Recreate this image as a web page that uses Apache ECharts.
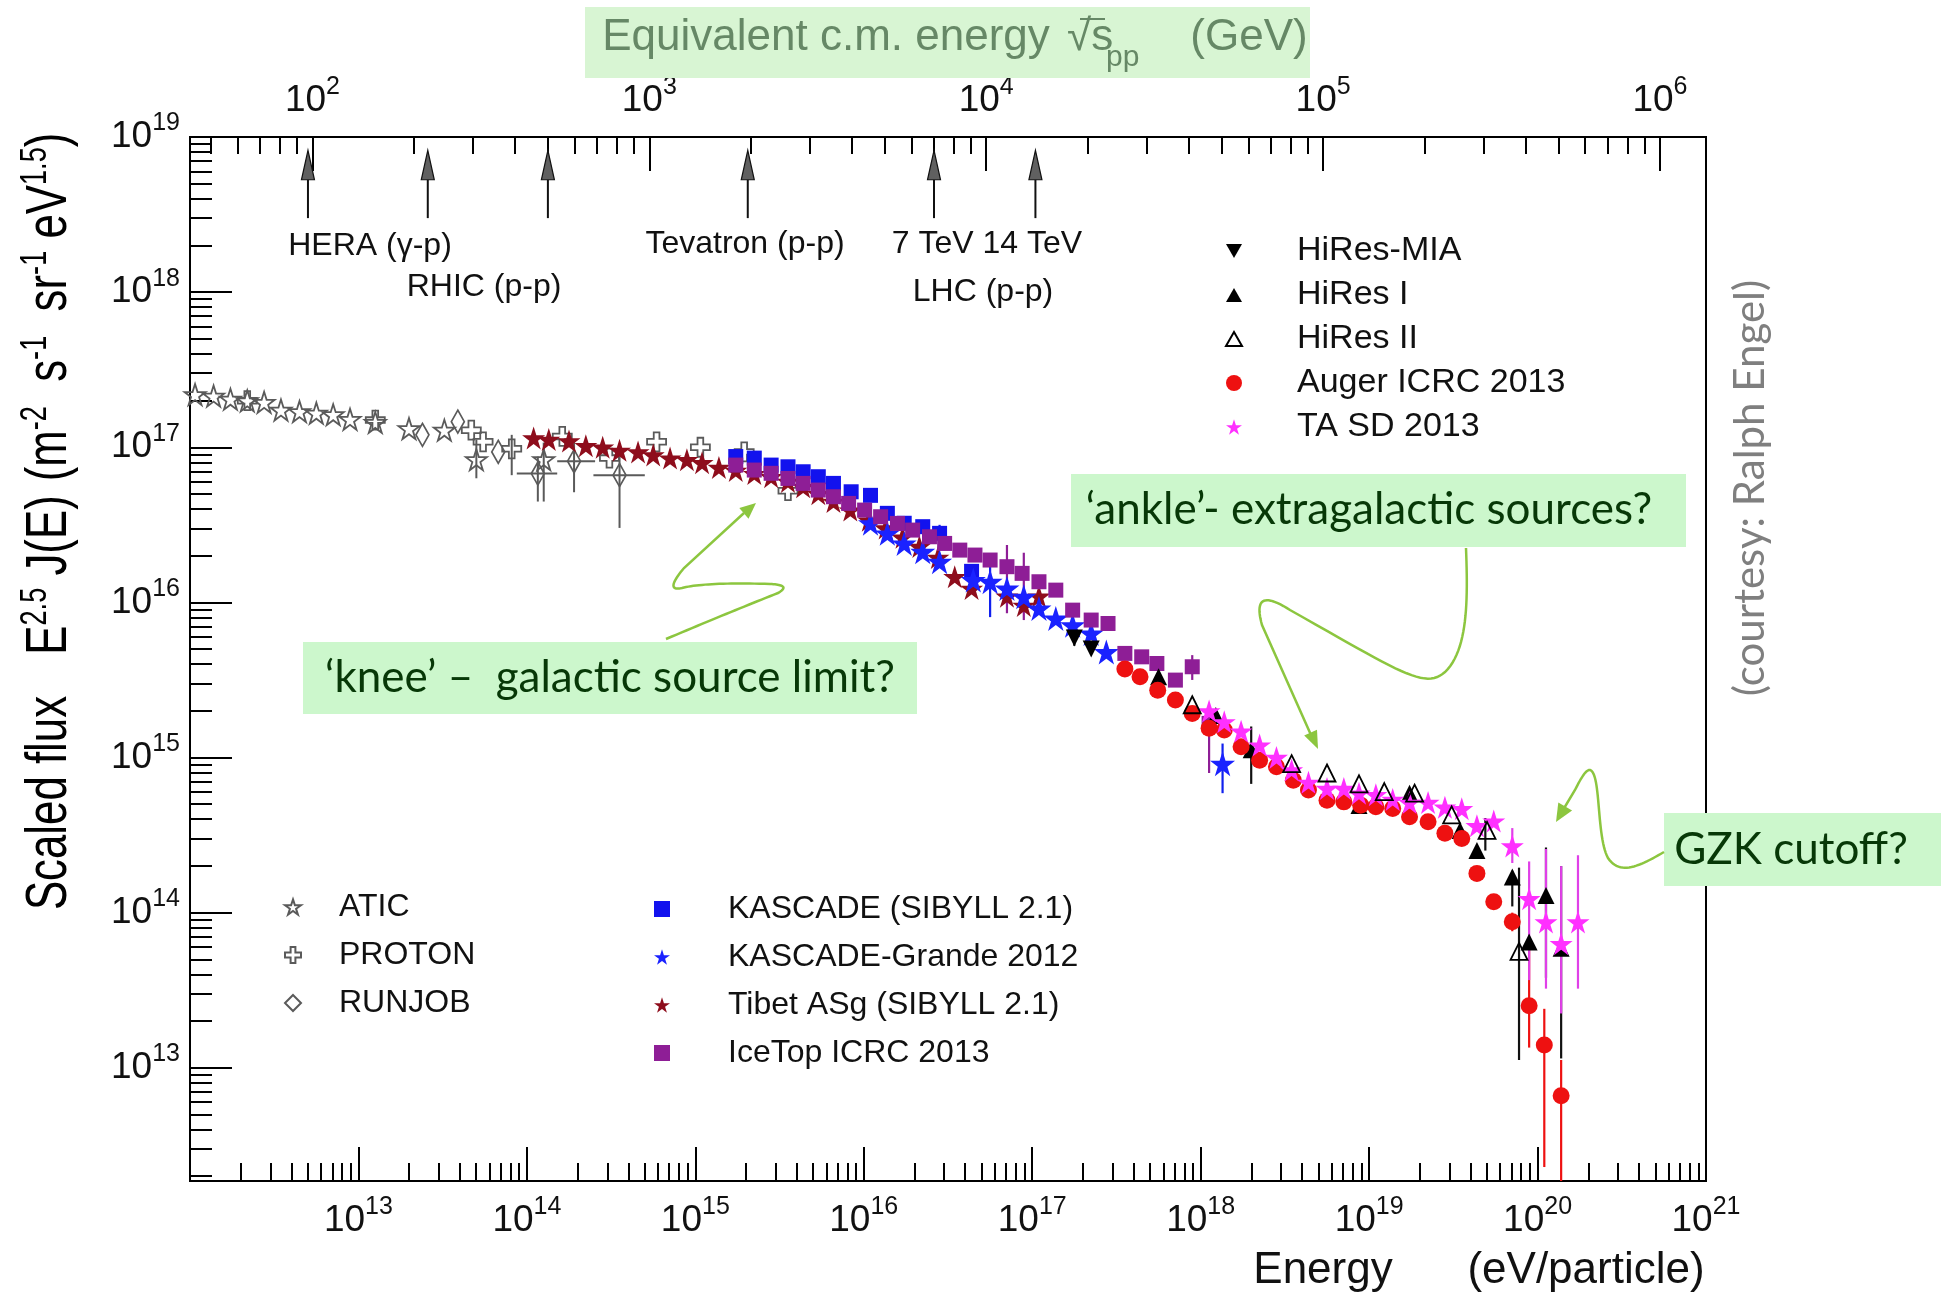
<!DOCTYPE html>
<html><head><meta charset="utf-8">
<script src="https://cdn.jsdelivr.net/npm/echarts@6/dist/echarts.min.js"></script>
<style>html,body{margin:0;padding:0;background:#fff}#c{width:1941px;height:1297px}</style>
</head><body><div id="c"></div>
<script>
// ---------- data (log10 E [eV], log10 scaled flux) ----------
const aticData = [[12.03,17.34],[12.14,17.33],[12.24,17.31],[12.34,17.30],[12.44,17.29],[12.54,17.24],[12.65,17.23],[12.75,17.22],[12.85,17.21],[12.95,17.18],[13.10,17.16],[13.30,17.12],[13.51,17.11],[13.70,16.92],[14.10,16.92]];
const protonData = [[12.34,17.30],[13.10,17.175],[13.67,17.11],[13.74,17.035],[13.91,16.99],[14.21,17.07],[14.49,16.93],[14.77,17.035],[15.03,17.00],[15.29,16.97],[15.55,16.72]];
const runjobData = [[13.38,17.08],[13.59,17.165],[13.83,16.97],[14.065,16.83],[14.28,16.91],[14.55,16.82]];
const tibetData = [[14.04,17.06],[14.13,17.05],[14.25,17.04],[14.35,17.01],[14.45,17.00],[14.55,16.98],[14.66,16.97],[14.75,16.95],[14.85,16.93],[14.95,16.92],[15.04,16.90],[15.14,16.87],[15.24,16.85],[15.35,16.83],[15.45,16.81],[15.55,16.78],[15.64,16.745],[15.73,16.70],[15.82,16.65],[15.92,16.595],[16.03,16.53],[16.13,16.48],[16.23,16.42],[16.33,16.36],[16.44,16.29],[16.54,16.165],[16.64,16.09],[16.85,16.04],[16.95,15.98],[17.04,16.04]];
const kascadeData = [[15.24,16.94],[15.35,16.93],[15.45,16.885],[15.55,16.874],[15.64,16.842],[15.73,16.81],[15.82,16.767],[15.925,16.713],[16.04,16.69],[16.14,16.574],[16.24,16.51],[16.35,16.488],[16.45,16.445],[16.64,16.20]];
const kgData = [[16.04,16.51],[16.14,16.445],[16.24,16.38],[16.35,16.326],[16.45,16.262],[16.65,16.144],[16.75,16.133],[16.85,16.09],[16.95,16.036],[17.04,15.961],[17.14,15.896],[17.24,15.853],[17.35,15.80],[17.44,15.68],[18.13,14.96]];
const icetopData = [[15.24,16.885],[15.35,16.853],[15.45,16.832],[15.55,16.799],[15.64,16.767],[15.73,16.724],[15.82,16.681],[15.91,16.638],[16.005,16.595],[16.10,16.552],[16.20,16.509],[16.29,16.466],[16.39,16.423],[16.48,16.38],[16.57,16.337],[16.66,16.305],[16.75,16.273],[16.85,16.23],[16.94,16.187],[17.04,16.133],[17.14,16.079],[17.24,15.95],[17.35,15.886],[17.45,15.864],[17.55,15.671],[17.65,15.649],[17.74,15.606],[17.85,15.499],[17.95,15.585],[18.05,15.22]];
const hiresMiaData = [[17.25,15.77],[17.35,15.70]];
const hires1Data = [[17.75,15.52],[18.09,15.27],[18.30,15.05],[18.94,14.69],[19.24,14.77],[19.54,14.53],[19.64,14.40],[19.85,14.23],[19.95,13.81],[20.05,14.11],[20.14,13.77]];
const hires2Data = [[17.95,15.34],[18.54,14.96],[18.75,14.90],[18.94,14.83],[19.09,14.78],[19.27,14.77],[19.49,14.63],[19.70,14.53],[19.89,13.75]];
const augerData = [[17.55,15.57],[17.64,15.52],[17.745,15.434],[17.85,15.37],[17.95,15.284],[18.05,15.188],[18.14,15.177],[18.24,15.069],[18.35,14.983],[18.45,14.94],[18.55,14.854],[18.64,14.79],[18.75,14.725],[18.85,14.714],[18.95,14.693],[19.04,14.682],[19.14,14.672],[19.24,14.618],[19.35,14.586],[19.45,14.511],[19.55,14.478],[19.64,14.253],[19.74,14.07],[19.85,13.941],[19.95,13.40],[20.04,13.146],[20.14,12.82]];
const taData = [[18.05,15.30],[18.14,15.23],[18.24,15.17],[18.35,15.08],[18.45,15.00],[18.54,14.92],[18.64,14.84],[18.75,14.80],[18.85,14.80],[18.94,14.77],[19.04,14.76],[19.14,14.73],[19.24,14.71],[19.35,14.71],[19.45,14.68],[19.55,14.67],[19.64,14.56],[19.74,14.59],[19.85,14.43],[19.95,14.09],[20.05,13.94],[20.14,13.80],[20.24,13.94]];

// error bars: [log10 E, log10 low, log10 high]
const grayErr = [[13.70,17.05,16.80],[14.10,17.03,16.65],[13.91,17.08,16.82],[14.065,16.94,16.65],[14.28,17.035,16.71],[14.55,16.94,16.48]];
const runjobXErr = [[16.83,13.94,14.18],[16.91,14.18,14.405],[16.82,14.395,14.70]]; // [log10 F, log10 Elo, log10 Ehi]
const blackErr = [[19.89,14.29,13.05],[20.05,14.42,13.58],[20.14,14.30,13.06],[19.85,14.27,14.04],[18.30,15.20,14.83],[19.69,14.61,14.40],[17.25,15.83,15.72]];
const redErr = [[19.95,13.82,13.13],[20.04,13.38,12.36],[20.14,13.05,12.27],[19.85,14.00,13.88],[19.74,14.12,14.02]];
const magentaErr = [[19.85,14.545,14.32],[19.95,14.33,13.565],[20.05,14.41,13.51],[20.14,14.30,13.35],[20.24,14.37,13.51]];
const blueErr = [[18.13,15.09,14.77],[16.75,16.25,15.905],[16.45,16.50,16.38]];
const purpleErr = [[17.95,15.66,15.50],[18.05,15.24,14.90],[16.85,16.37,15.93],[16.95,16.32,15.886]];

// accelerator arrows on the top axis (sqrt(s) in GeV)
const accelSqrtS = [97, 220, 500, 1960, 7000, 14000];

// axis ticks
const xMajor = [1e13,1e14,1e15,1e16,1e17,1e18,1e19,1e20];
const xLabels = [1e13,1e14,1e15,1e16,1e17,1e18,1e19,1e20,1e21];
const yMajor = [1e13,1e14,1e15,1e16,1e17,1e18,1e19];
const topMajor = [1e2,1e3,1e4,1e5,1e6];
const xRange = [1e12, 1e21];
const yRange = [Math.pow(10,12.27), 1e19];
const topRange = [Math.sqrt(1.876e3), Math.sqrt(1.876e12)];

function minors(lo, hi) {
  const out = [];
  for (let d = Math.floor(Math.log10(lo)); d <= Math.ceil(Math.log10(hi)); d++) {
    for (let k = 2; k <= 9; k++) { const v = k * Math.pow(10, d); if (v > lo && v < hi) out.push(v); }
  }
  return out;
}
// keep end values inside the axis extent despite float rounding
const inside = a => a.map(v => v * (1 - 1e-9));
const P = a => a.map(d => [Math.pow(10, d[0]), Math.pow(10, d[1])]);

// sample a decorative curve (annotation arrows) into polyline points
function curve(start, segs) {
  const pts = [start]; let p0 = start;
  segs.forEach(s => {
    if (s.length === 1) { pts.push(s[0]); p0 = s[0]; return; }
    for (let i = 1; i <= 24; i++) {
      const t = i / 24, u = 1 - t; let x, y;
      if (s.length === 2) {
        x = u*u*p0[0] + 2*u*t*s[0][0] + t*t*s[1][0];
        y = u*u*p0[1] + 2*u*t*s[0][1] + t*t*s[1][1];
      } else {
        x = u*u*u*p0[0] + 3*u*u*t*s[0][0] + 3*u*t*t*s[1][0] + t*t*t*s[2][0];
        y = u*u*u*p0[1] + 3*u*u*t*s[0][1] + 3*u*t*t*s[1][1] + t*t*t*s[2][1];
      }
      pts.push([x, y]);
    }
    p0 = s[s.length - 1];
  });
  return pts;
}

// ---------- styling ----------
const F = "'Liberation Sans', Arial, sans-serif";
const FC = "Lato, 'Open Sans', sans-serif";
const STAR = 'path://M50,2 L61.8,38.2 L99.5,38.2 L69,60.5 L80.6,96.6 L50,74.3 L19.4,96.6 L31,60.5 L0.5,38.2 L38.2,38.2 Z';
const CROSS = 'path://M35,0 L65,0 L65,35 L100,35 L100,65 L65,65 L65,100 L35,100 L35,65 L0,65 L0,35 L35,35 Z';
const DTRI = 'path://M0,0 L100,0 L50,87 Z';
const UTRI = 'path://M50,0 L100,87 L0,87 Z';
const GRAY = '#5a5a5a';

const supFmt = v => '{b|10}{s|' + Math.round(Math.log10(v)) + '}';
const rich = {
  b: { fontSize: 37, lineHeight: 52, color: '#111', fontFamily: F },
  s: { fontSize: 25, lineHeight: 24, verticalAlign: 'top', color: '#111', fontFamily: F }
};

function logAxis(extra) {
  return Object.assign({
    type: 'log', logBase: 10, gridIndex: 0,
    splitLine: { show: false },
    axisLine: { show: true, onZero: false, lineStyle: { color: '#000', width: 2 } },
    axisPointer: { show: false }
  }, extra);
}

function sc(name, data, symbol, size, color, hollow, extra) {
  return Object.assign({
    type: 'scatter', name: name, data: P(data), symbol: symbol, symbolSize: size,
    xAxisIndex: 0, yAxisIndex: 0, z: 3, silent: true,
    itemStyle: hollow ? { color: 'rgba(255,255,255,0)', borderColor: color, borderWidth: 1.8, opacity: 1 }
                      : { color: color, opacity: 1 },
    emphasis: { disabled: true }
  }, extra || {});
}

function errV(name, arr, color, w) {
  return {
    type: 'custom', name: name, xAxisIndex: 0, yAxisIndex: 0, z: 2, silent: true,
    data: arr.map(d => [Math.pow(10, d[0]), Math.pow(10, d[1]), Math.pow(10, d[2])]),
    encode: { x: 0, y: [1, 2] },
    renderItem: function (p, api) {
      const a = api.coord([api.value(0), api.value(1)]);
      const b = api.coord([api.value(0), api.value(2)]);
      return { type: 'line', shape: { x1: a[0], y1: a[1], x2: b[0], y2: b[1] }, style: { stroke: color, lineWidth: w } };
    }
  };
}
function errH(name, arr, color, w) {
  return {
    type: 'custom', name: name, xAxisIndex: 0, yAxisIndex: 0, z: 2, silent: true,
    data: arr.map(d => [Math.pow(10, d[1]), Math.pow(10, d[0]), Math.pow(10, d[2])]),
    encode: { x: [0, 2], y: 1 },
    renderItem: function (p, api) {
      const a = api.coord([api.value(0), api.value(1)]);
      const b = api.coord([api.value(2), api.value(1)]);
      return { type: 'line', shape: { x1: a[0], y1: a[1], x2: b[0], y2: b[1] }, style: { stroke: color, lineWidth: w } };
    }
  };
}

const arrowLevels = [3.0e18, 5.3e18, 8.2e18];
const accelSeries = {
  type: 'custom', name: 'accelerators', xAxisIndex: 2, yAxisIndex: 0, z: 3, silent: true,
  data: accelSqrtS.map(v => [v, arrowLevels[0]]),
  encode: { x: 0, y: 1 },
  renderItem: function (p, api) {
    const b = api.coord([api.value(0), arrowLevels[0]]);
    const h = api.coord([api.value(0), arrowLevels[1]]);
    const t = api.coord([api.value(0), arrowLevels[2]]);
    return { type: 'group', children: [
      { type: 'line', shape: { x1: b[0], y1: b[1], x2: h[0], y2: h[1] }, style: { stroke: '#111', lineWidth: 2 } },
      { type: 'polygon', shape: { points: [[t[0], t[1]], [h[0] - 6.5, h[1]], [h[0] + 6.5, h[1]]] }, style: { fill: '#606060', stroke: '#111', lineWidth: 1.2 } }
    ] };
  }
};

function legend(names, left, top, gap, pad, fs) {
  return {
    data: names, orient: 'vertical', left: left, top: top, itemGap: gap, itemWidth: 16, itemHeight: 16,
    selectedMode: false, padding: 0,
    textStyle: { fontFamily: F, fontSize: fs, color: '#111', lineHeight: 36, padding: [0, 0, 0, pad] }
  };
}

const GREEN = '#8cc63f';
const yRich = {
  b: { fontFamily: F, fontSize: 58, lineHeight: 64, color: '#111' },
  s: { fontFamily: F, fontSize: 36, lineHeight: 32, verticalAlign: 'top', color: '#111' }
};
const kneeCurve = curve([666, 639], [[[730, 612], [778, 593]], [[792, 585], [770, 584]], [[705, 582], [682, 588]], [[664, 592], [684, 568]], [[744, 513]]]);
const ankleCurve = curve([1466, 548], [[[1468, 600], [1468, 650], [1445, 672]], [[1425, 690], [1400, 672], [1290, 610]], [[1262, 592], [1255, 600], [1262, 625]], [[1311, 735]]]);
const gzkCurve = curve([1664, 852], [[[1640, 866], [1620, 876], [1608, 858]], [[1598, 840], [1600, 790], [1594, 775]], [[1590, 765], [1585, 770], [1575, 790]], [[1563, 810]]]);

const option = {
  animation: false,
  backgroundColor: '#fff',
  textStyle: { fontFamily: F },
  grid: { left: 190, top: 137, width: 1516, height: 1044, show: true, borderColor: '#000', borderWidth: 2, backgroundColor: 'rgba(0,0,0,0)' },
  xAxis: [
    logAxis({ position: 'bottom', min: xRange[0], max: xRange[1],
      axisTick: { show: true, inside: true, length: 34, customValues: xMajor, lineStyle: { color: '#000', width: 2 } },
      axisLabel: { show: true, customValues: inside(xLabels), margin: 14, formatter: supFmt, rich: rich } }),
    logAxis({ position: 'bottom', min: xRange[0], max: xRange[1], axisLine: { show: false, onZero: false },
      axisTick: { show: true, inside: true, length: 18, customValues: minors(xRange[0], xRange[1]), lineStyle: { color: '#000', width: 2 } },
      axisLabel: { show: false } }),
    logAxis({ position: 'top', min: topRange[0], max: topRange[1],
      axisTick: { show: true, inside: true, length: 34, customValues: topMajor, lineStyle: { color: '#000', width: 2 } },
      axisLabel: { show: true, customValues: topMajor, margin: 10, formatter: supFmt, rich: rich } }),
    logAxis({ position: 'top', min: topRange[0], max: topRange[1], axisLine: { show: false, onZero: false },
      axisTick: { show: true, inside: true, length: 17, customValues: minors(topRange[0], topRange[1]), lineStyle: { color: '#000', width: 2 } },
      axisLabel: { show: false } })
  ],
  yAxis: [
    logAxis({ position: 'left', min: yRange[0], max: yRange[1],
      axisTick: { show: true, inside: true, length: 42, customValues: inside(yMajor), lineStyle: { color: '#000', width: 2 } },
      axisLabel: { show: true, customValues: inside(yMajor), margin: 10, formatter: supFmt, rich: rich } }),
    logAxis({ position: 'left', min: yRange[0], max: yRange[1], axisLine: { show: false, onZero: false },
      axisTick: { show: true, inside: true, length: 22, customValues: minors(yRange[0], yRange[1]), lineStyle: { color: '#000', width: 2 } },
      axisLabel: { show: false } })
  ],
  legend: [
    legend(['HiRes-MIA', 'HiRes I', 'HiRes II', 'Auger ICRC 2013', 'TA SD 2013'], 1225, 233, 8, 50, 34),
    legend(['ATIC', 'PROTON', 'RUNJOB'], 284, 889, 12, 33, 32),
    legend(['KASCADE (SIBYLL 2.1)', 'KASCADE-Grande 2012', 'Tibet ASg (SIBYLL 2.1)', 'IceTop ICRC 2013'], 654, 891, 12, 53, 32)
  ],
  series: [
    errV('e-gray', grayErr, GRAY, 2),
    errH('e-grayh', runjobXErr, GRAY, 2),
    errV('e-black', blackErr, '#111', 2.2),
    errV('e-red', redErr, '#ee1111', 2.2),
    errV('e-mag', magentaErr, '#e040e8', 2.2),
    errV('e-blue', blueErr, '#1020ee', 2.2),
    errV('e-purple', purpleErr, '#8e1e96', 2.2),
    sc('ATIC', aticData, STAR, 21, GRAY, true),
    sc('PROTON', protonData, CROSS, 19, GRAY, true),
    sc('RUNJOB', runjobData, 'diamond', [13, 23], GRAY, true),
    sc('Tibet ASg (SIBYLL 2.1)', tibetData, STAR, 23, '#8e0d1c', false),
    sc('KASCADE (SIBYLL 2.1)', kascadeData, 'rect', 15, '#1212ee', false),
    sc('KASCADE-Grande 2012', kgData, STAR, 25, '#1a22ff', false),
    sc('IceTop ICRC 2013', icetopData, 'rect', 15, '#8e1e96', false),
    sc('HiRes-MIA', hiresMiaData, DTRI, 17, '#000', false),
    sc('HiRes I', hires1Data, UTRI, 17, '#000', false),
    sc('Auger ICRC 2013', augerData, 'circle', 17, '#ee1111', false),
    sc('TA SD 2013', taData, STAR, 23, '#ff30ff', false),
    sc('HiRes II', hires2Data, UTRI, 17, '#000', true),
    accelSeries
  ],
  graphic: [
    // top title
    { type: 'rect', z: 50, shape: { x: 585, y: 7, width: 725, height: 71 }, style: { fill: '#d8f5d3' } },
    { type: 'text', z: 51, x: 826, y: 38, style: { text: 'Equivalent c.m. energy', fontFamily: F, fontSize: 44, fill: '#668866', align: 'center', verticalAlign: 'middle' } },
    { type: 'text', z: 51, x: 1067, y: 38, style: { text: '\u221As', fontFamily: F, fontSize: 44, fill: '#668866', align: 'left', verticalAlign: 'middle' } },
    { type: 'line', z: 51, shape: { x1: 1080, y1: 19, x2: 1105, y2: 19 }, style: { stroke: '#668866', lineWidth: 2 } },
    { type: 'text', z: 51, x: 1106, y: 58, style: { text: 'pp', fontFamily: F, fontSize: 30, fill: '#668866', align: 'left', verticalAlign: 'middle' } },
    { type: 'text', z: 51, x: 1249, y: 38, style: { text: '(GeV)', fontFamily: F, fontSize: 44, fill: '#668866', align: 'center', verticalAlign: 'middle' } },
    // accelerator labels
    { type: 'text', z: 51, x: 370, y: 246, style: { text: 'HERA (\u03B3-p)', fontFamily: F, fontSize: 32, fill: '#111', align: 'center', verticalAlign: 'middle' } },
    { type: 'text', z: 51, x: 484, y: 287, style: { text: 'RHIC (p-p)', fontFamily: F, fontSize: 32, fill: '#111', align: 'center', verticalAlign: 'middle' } },
    { type: 'text', z: 51, x: 745, y: 244, style: { text: 'Tevatron (p-p)', fontFamily: F, fontSize: 32, fill: '#111', align: 'center', verticalAlign: 'middle' } },
    { type: 'text', z: 51, x: 987, y: 244, style: { text: '7 TeV 14 TeV', fontFamily: F, fontSize: 32, fill: '#111', align: 'center', verticalAlign: 'middle' } },
    { type: 'text', z: 51, x: 983, y: 292, style: { text: 'LHC (p-p)', fontFamily: F, fontSize: 32, fill: '#111', align: 'center', verticalAlign: 'middle' } },
    // axis titles
    { type: 'text', z: 51, x: 50, y: 803, rotation: Math.PI / 2, scaleX: 0.755, style: { text: '{b|Scaled flux}', rich: yRich, align: 'center', verticalAlign: 'middle' } },
    { type: 'text', z: 51, x: 50, y: 575, rotation: Math.PI / 2, scaleX: 0.755, style: { text: '{b|E}{s|2.5}{b| J(E)}', rich: yRich, align: 'center', verticalAlign: 'middle' } },
    { type: 'text', z: 51, x: 50, y: 307, rotation: Math.PI / 2, scaleX: 0.755, style: { text: '{b|(m}{s|-2}{b|  s}{s|-1}{b|  sr}{s|-1}{b| eV}{s|1.5}{b|)}', rich: yRich, align: 'center', verticalAlign: 'middle' } },
    { type: 'text', z: 51, x: 1323, y: 1271, style: { text: 'Energy', fontFamily: F, fontSize: 44, fill: '#111', align: 'center', verticalAlign: 'middle' } },
    { type: 'text', z: 51, x: 1586, y: 1271, style: { text: '(eV/particle)', fontFamily: F, fontSize: 44, fill: '#111', align: 'center', verticalAlign: 'middle' } },
    // courtesy
    { type: 'text', z: 51, x: 1750, y: 488, rotation: Math.PI / 2, style: { text: '(courtesy: Ralph Engel)', fontFamily: FC, fontSize: 42, fill: '#7f7f7f', align: 'center', verticalAlign: 'middle' } },
    // annotation boxes
    { type: 'rect', z: 100, shape: { x: 303, y: 642, width: 614, height: 72 }, style: { fill: '#ccf7cc' } },
    { type: 'text', z: 101, x: 610, y: 678, style: { text: '\u2018knee\u2019 \u2013  galactic source limit?', fontFamily: FC, fontSize: 44, fill: '#073807', align: 'center', verticalAlign: 'middle' } },
    { type: 'rect', z: 100, shape: { x: 1071, y: 474, width: 615, height: 73 }, style: { fill: '#ccf7cc' } },
    { type: 'text', z: 101, x: 1369, y: 510, style: { text: '\u2018ankle\u2019- extragalactic sources?', fontFamily: FC, fontSize: 44, fill: '#073807', align: 'center', verticalAlign: 'middle' } },
    { type: 'rect', z: 100, shape: { x: 1664, y: 813, width: 277, height: 73 }, style: { fill: '#ccf7cc' } },
    { type: 'text', z: 101, x: 1791, y: 850, style: { text: 'GZK cutoff?', fontFamily: FC, fontSize: 44, fill: '#073807', align: 'center', verticalAlign: 'middle' } },
    // green curly arrows
    { type: 'polyline', z: 102, shape: { points: kneeCurve }, style: { fill: null, stroke: GREEN, lineWidth: 2.5 } },
    { type: 'polygon', z: 102, shape: { points: [[756, 503], [748.5, 518.7], [739.3, 508.1]] }, style: { fill: GREEN } },
    { type: 'polyline', z: 102, shape: { points: ankleCurve }, style: { fill: null, stroke: GREEN, lineWidth: 2.5 } },
    { type: 'polygon', z: 102, shape: { points: [[1318, 749], [1317, 729.7], [1304.2, 735.5]] }, style: { fill: GREEN } },
    { type: 'polyline', z: 102, shape: { points: gzkCurve }, style: { fill: null, stroke: GREEN, lineWidth: 2.5 } },
    { type: 'polygon', z: 102, shape: { points: [[1556, 822], [1572.1, 810.6], [1558.3, 802.4]] }, style: { fill: GREEN } }
  ]
};

const chart = echarts.init(document.getElementById('c'), null, { renderer: 'canvas' });
chart.setOption(option);
</script></body></html>
